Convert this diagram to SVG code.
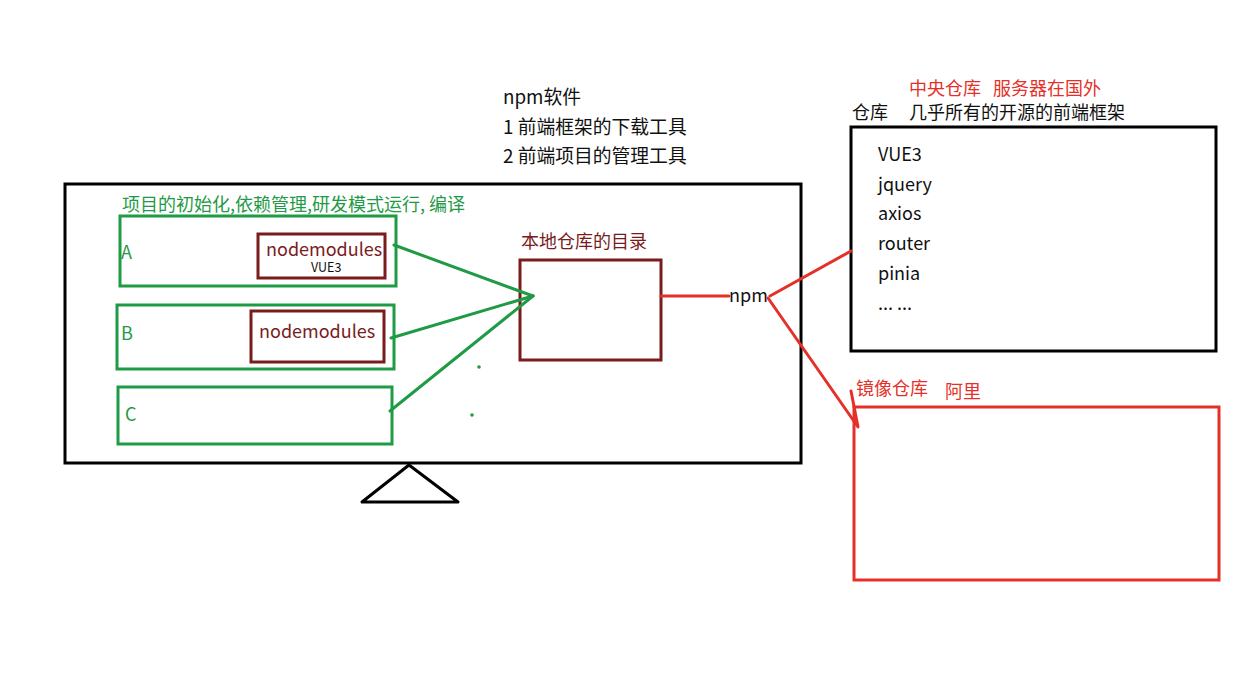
<svg xmlns="http://www.w3.org/2000/svg" width="1247" height="699" viewBox="0 0 1247 699">
<style>
text{font-family:"Noto Sans CJK SC","Noto Sans",sans-serif;font-size:18px;fill:#111}
.g{fill:#1f9a45}
.dr{fill:#7a1c1c}
.r{fill:#e5302a}
.box{fill:none;stroke-width:3}
.black{stroke:#000}
.green{stroke:#1f9a45}
.darkred{stroke:#7a1c1c}
.red{stroke:#e5302a}
.ln{fill:none;stroke-width:3;stroke-linecap:round;stroke-linejoin:round}
</style>
<rect width="1247" height="699" fill="#fff"/>

<g id="intro">
<text x="503" y="104" style="font-size:18.8px">npm软件</text>
<text x="503" y="134" style="font-size:18.8px">1 前端框架的下载工具</text>
<text x="503" y="163" style="font-size:18.8px">2 前端项目的管理工具</text>
</g>

<g id="computer">
<rect class="box black" x="65" y="184" width="736" height="279"/>
<polygon points="409,465 362,502 458,502" fill="none" stroke="#000" stroke-width="3" stroke-linejoin="round"/>
<text class="g" x="122" y="211" style="font-size:18px">项目的初始化,依赖管理,研发模式运行, 编译</text>
</g>

<g id="projectA">
<rect class="box green" x="120" y="216" width="276" height="70"/>
<text class="g" x="121" y="259">A</text>
</g>
<g id="nodemodulesA">
<rect class="box darkred" x="258" y="234" width="127" height="44"/>
<text class="dr" x="266" y="256" style="font-size:18px">nodemodules</text>
<rect x="302" y="258" width="70" height="17" fill="#fff"/>
<text x="311" y="272" style="font-size:12.5px">VUE3</text>
</g>

<g id="projectB">
<rect class="box green" x="117" y="305" width="277" height="64"/>
<text class="g" x="121" y="340">B</text>
</g>
<g id="nodemodulesB">
<rect class="box darkred" x="251" y="311" width="133" height="51"/>
<text class="dr" x="259" y="338" style="font-size:18px">nodemodules</text>
</g>

<g id="projectC">
<rect class="box green" x="118" y="387" width="274" height="57"/>
<text class="g" x="125" y="421">C</text>
</g>

<g id="localRepo">
<text class="dr" x="521" y="248">本地仓库的目录</text>
<rect class="box darkred" x="520" y="260" width="141" height="100"/>
</g>

<g id="npm">
<text x="729" y="302">npm</text>
</g>

<g id="centralRepo">
<text class="r" x="909" y="95" xml:space="preserve">中央仓库   服务器在国外</text>
<text x="852" y="119">仓库</text>
<text x="909" y="119">几乎所有的开源的前端框架</text>
<rect class="box black" x="851" y="127" width="365" height="224"/>
<text x="878" y="161">VUE3</text>
<text x="878" y="191">jquery</text>
<text x="878" y="220">axios</text>
<text x="878" y="250">router</text>
<text x="878" y="280">pinia</text>
<text x="878" y="310">... ...</text>
</g>

<g id="mirrorRepo">
<text class="r" x="856" y="395">镜像仓库</text>
<text class="r" x="945" y="398">阿里</text>
<rect class="box red" x="854" y="407" width="365" height="173"/>
</g>

<g id="connectors">
<line class="ln green" x1="394" y1="245" x2="533" y2="296"/>
<line class="ln green" x1="391" y1="338" x2="533" y2="296"/>
<line class="ln green" x1="390" y1="411" x2="533" y2="296"/>
<circle cx="479" cy="367" r="1.8" fill="#1f9a45"/>
<circle cx="472" cy="415" r="1.8" fill="#1f9a45"/>
<line class="ln red" x1="661" y1="296" x2="729" y2="296"/>
<line class="ln red" x1="770" y1="296" x2="851" y2="251"/>
<polyline class="ln red" points="768,298 858,427 851,391"/>
</g>
</svg>
